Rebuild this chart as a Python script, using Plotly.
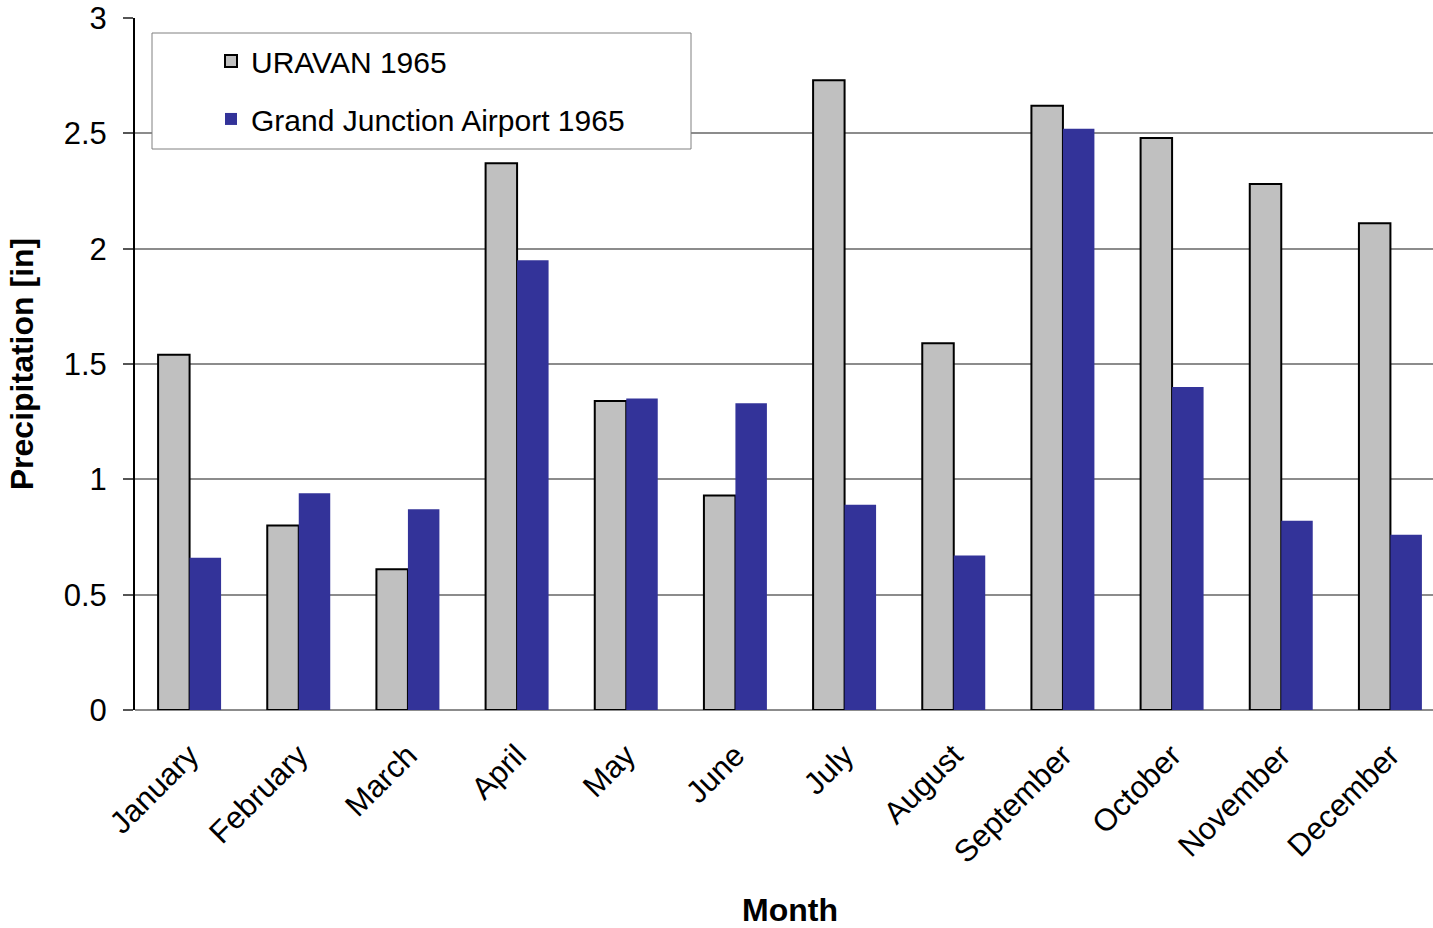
import plotly.graph_objects as go

months = ["January", "February", "March", "April", "May", "June", "July",
          "August", "September", "October", "November", "December"]
uravan = [1.54, 0.80, 0.61, 2.37, 1.34, 0.93, 2.73, 1.59, 2.62, 2.48, 2.28, 2.11]
grand_junction = [0.66, 0.94, 0.87, 1.95, 1.35, 1.33, 0.89, 0.67, 2.52, 1.40, 0.82, 0.76]

FONT = "Liberation Sans, Arial, sans-serif"
PW = 1310  # plot width in px (chart is clipped at the right edge)
PH = 692

fig = go.Figure()
fig.add_trace(go.Bar(
    x=months, y=uravan, name="URAVAN 1965",
    marker=dict(color="#C0C0C0", line=dict(color="black", width=2)),
    legendgroup="a",
))
fig.add_trace(go.Bar(
    x=months, y=grand_junction, name="Grand Junction Airport 1965",
    marker=dict(color="#333399", line=dict(width=0)),
    legendgroup="b",
))

fig.update_layout(
    width=135 + PW, height=928,
    margin=dict(l=135, r=0, t=18, b=218),
    paper_bgcolor="white", plot_bgcolor="white",
    barmode="group", bargap=0.423, bargroupgap=0,
    font=dict(family=FONT, size=30, color="black"),
    showlegend=True,
    legend=dict(
        x=(211 - 135) / PW, y=0.9755, xanchor="left", yanchor="top",
        bgcolor="rgba(0,0,0,0)", borderwidth=0,
        font=dict(size=30, family=FONT),
        tracegroupgap=16, itemsizing="constant",
    ),
    shapes=[dict(
        type="rect", xref="paper", yref="paper",
        x0=(152 - 135) / PW, x1=(691 - 135) / PW,
        y0=(710 - 149) / PH, y1=(710 - 33) / PH,
        line=dict(color="#808080", width=1), fillcolor="white", layer="above",
    )],
)

fig.update_xaxes(
    title=dict(text="<b>Month</b>", font=dict(size=32, family=FONT), standoff=37),
    tickangle=-45, showline=False, showgrid=False, ticks="",
    tickfont=dict(size=31, family=FONT), ticklabelstandoff=20,
)
fig.update_yaxes(
    title=dict(text="<b>Precipitation [in]</b>", font=dict(size=32, family=FONT), standoff=20),
    range=[0, 3], dtick=0.5, tickformat="~g",
    showgrid=True, gridcolor="#8C8C8C", gridwidth=1.5,
    zeroline=True, zerolinecolor="#8C8C8C", zerolinewidth=2,
    showline=True, linecolor="black", linewidth=2,
    ticks="outside", ticklen=10, tickcolor="#555555", tickwidth=1.5,
    tickfont=dict(size=31, family=FONT), ticklabelstandoff=10,
)

fig.write_html(
    "out.html",
    config={"displayModeBar": False},
    post_script="document.body.style.margin='0';document.body.style.overflow='hidden';",
)
